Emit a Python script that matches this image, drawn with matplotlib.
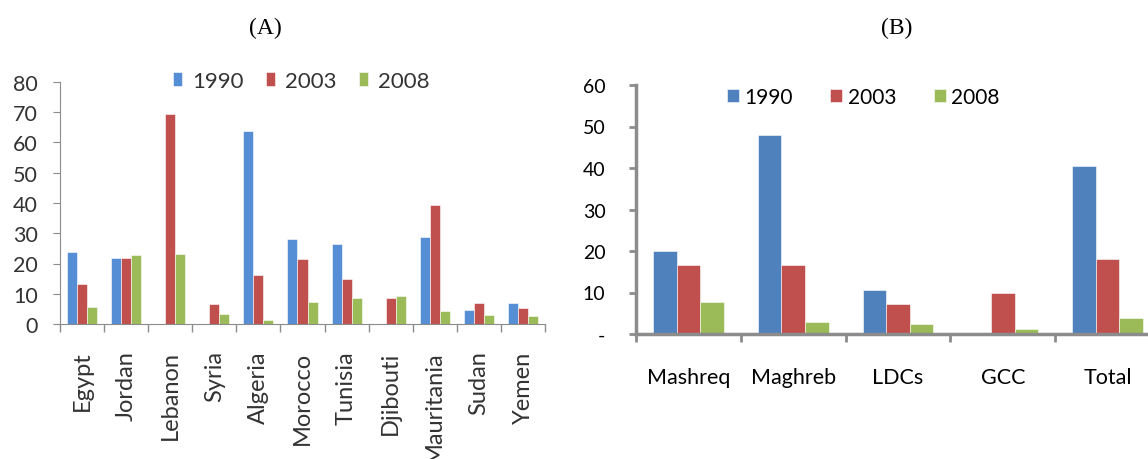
import numpy as np
import matplotlib.pyplot as plt

plt.rcParams['font.family'] = ['Lato', 'DejaVu Sans']

years = ['1990', '2003', '2008']

# panel A: by country
countries = ['Egypt', 'Jordan', 'Lebanon', 'Syria', 'Algeria', 'Morocco',
             'Tunisia', 'Djibouti', 'Mauritania', 'Sudan', 'Yemen']
a_1990 = [23.7, 21.9, 0, 0, 63.8, 28.0, 26.4, 0, 28.9, 4.7, 7.0]
a_2003 = [13.2, 21.9, 69.5, 6.7, 16.1, 21.5, 15.0, 8.5, 39.5, 7.0, 5.2]
a_2008 = [5.5, 22.7, 23.1, 3.4, 1.3, 7.2, 8.5, 9.1, 4.2, 3.0, 2.6]

# panel B: by region
regions = ['Mashreq', 'Maghreb', 'LDCs', 'GCC', 'Total']
b_1990 = [20.1, 48.0, 10.7, 0, 40.4]
b_2003 = [16.7, 16.7, 7.3, 9.9, 18.0]
b_2008 = [7.7, 3.0, 2.5, 1.3, 3.9]

colors_a = ['#558ED5', '#C0504D', '#9BBB59']
colors_b = ['#4F81BD', '#C0504D', '#9BBB59']
axis_grey = '#8C8C8C'
text_grey = '#333333'

W, H = 1148, 460
fig = plt.figure(figsize=(W / 100, H / 100), dpi=100)

# ---- (A)
axA = fig.add_axes([60 / W, 135 / H, 485 / W, 242 / H])
x = np.arange(len(countries))
w = 0.227
for i, (vals, c) in enumerate(zip([a_1990, a_2003, a_2008], colors_a)):
    axA.bar(x + (i - 1) * w, vals, w, color=c, edgecolor='white',
            linewidth=0.4, label=years[i])
axA.set_xlim(-0.5, len(countries) - 0.5)
axA.set_ylim(0, 80)
axA.set_yticks(range(0, 81, 10))
axA.set_xticks(x)
axA.set_xticklabels(countries, rotation=90, fontsize=17, color=text_grey)
axA.set_xticks(np.arange(-0.5, len(countries)), minor=True)
axA.tick_params(axis='x', which='major', length=0, pad=19)
axA.tick_params(axis='x', which='minor', length=6, color=axis_grey, width=1)
axA.tick_params(axis='y', labelsize=15.5, labelcolor=text_grey, length=5,
                color=axis_grey, pad=11)
for s in ['top', 'right']:
    axA.spines[s].set_visible(False)
for s in ['left', 'bottom']:
    axA.spines[s].set_color(axis_grey)
axA.legend(loc='center left', bbox_to_anchor=(173 / W, 1 - 82 / H),
           bbox_transform=fig.transFigure, ncol=3, frameon=False,
           fontsize=16, handlelength=0.42, handleheight=0.55,
           handletextpad=0.45, columnspacing=1.0, borderpad=0,
           borderaxespad=0, labelcolor=text_grey)
fig.text(265 / W, 1 - 28 / H, '(A)', ha='center', va='center',
         fontsize=17, family='Liberation Serif')

# ---- (B)
axB = fig.add_axes([636 / W, 125 / H, 524 / W, 249 / H])
xb = np.arange(len(regions))
wb = 0.225
for i, (vals, c) in enumerate(zip([b_1990, b_2003, b_2008], colors_b)):
    axB.bar(xb + (i - 1) * wb, vals, wb, color=c, edgecolor='white',
            linewidth=0.4, label=years[i])
axB.set_xlim(-0.5, len(regions) - 0.5)
axB.set_ylim(0, 60)
axB.set_yticks(range(0, 61, 10))
axB.set_yticklabels(['-'] + [str(v) for v in range(10, 61, 10)])
axB.set_xticks(xb)
axB.set_xticklabels(regions, fontsize=15.5)
axB.set_xticks(np.arange(-0.5, len(regions)), minor=True)
axB.tick_params(axis='x', which='major', length=0, pad=24)
axB.tick_params(axis='x', which='minor', length=6, color=axis_grey, width=2)
axB.tick_params(axis='y', labelsize=14, length=5, color=axis_grey, width=2,
                pad=17)
for s in ['top', 'right']:
    axB.spines[s].set_visible(False)
for s in ['left', 'bottom']:
    axB.spines[s].set_color(axis_grey)
    axB.spines[s].set_linewidth(2.5)
axB.legend(loc='center left', bbox_to_anchor=(727 / W, 1 - 98 / H),
           bbox_transform=fig.transFigure, ncol=3, frameon=False,
           fontsize=15, handlelength=0.58, handleheight=0.58,
           handletextpad=0.25, columnspacing=1.8, borderpad=0,
           borderaxespad=0)
fig.text(897 / W, 1 - 28 / H, '(B)', ha='center', va='center',
         fontsize=17, family='Liberation Serif')

fig.savefig('out.png', dpi=100)
